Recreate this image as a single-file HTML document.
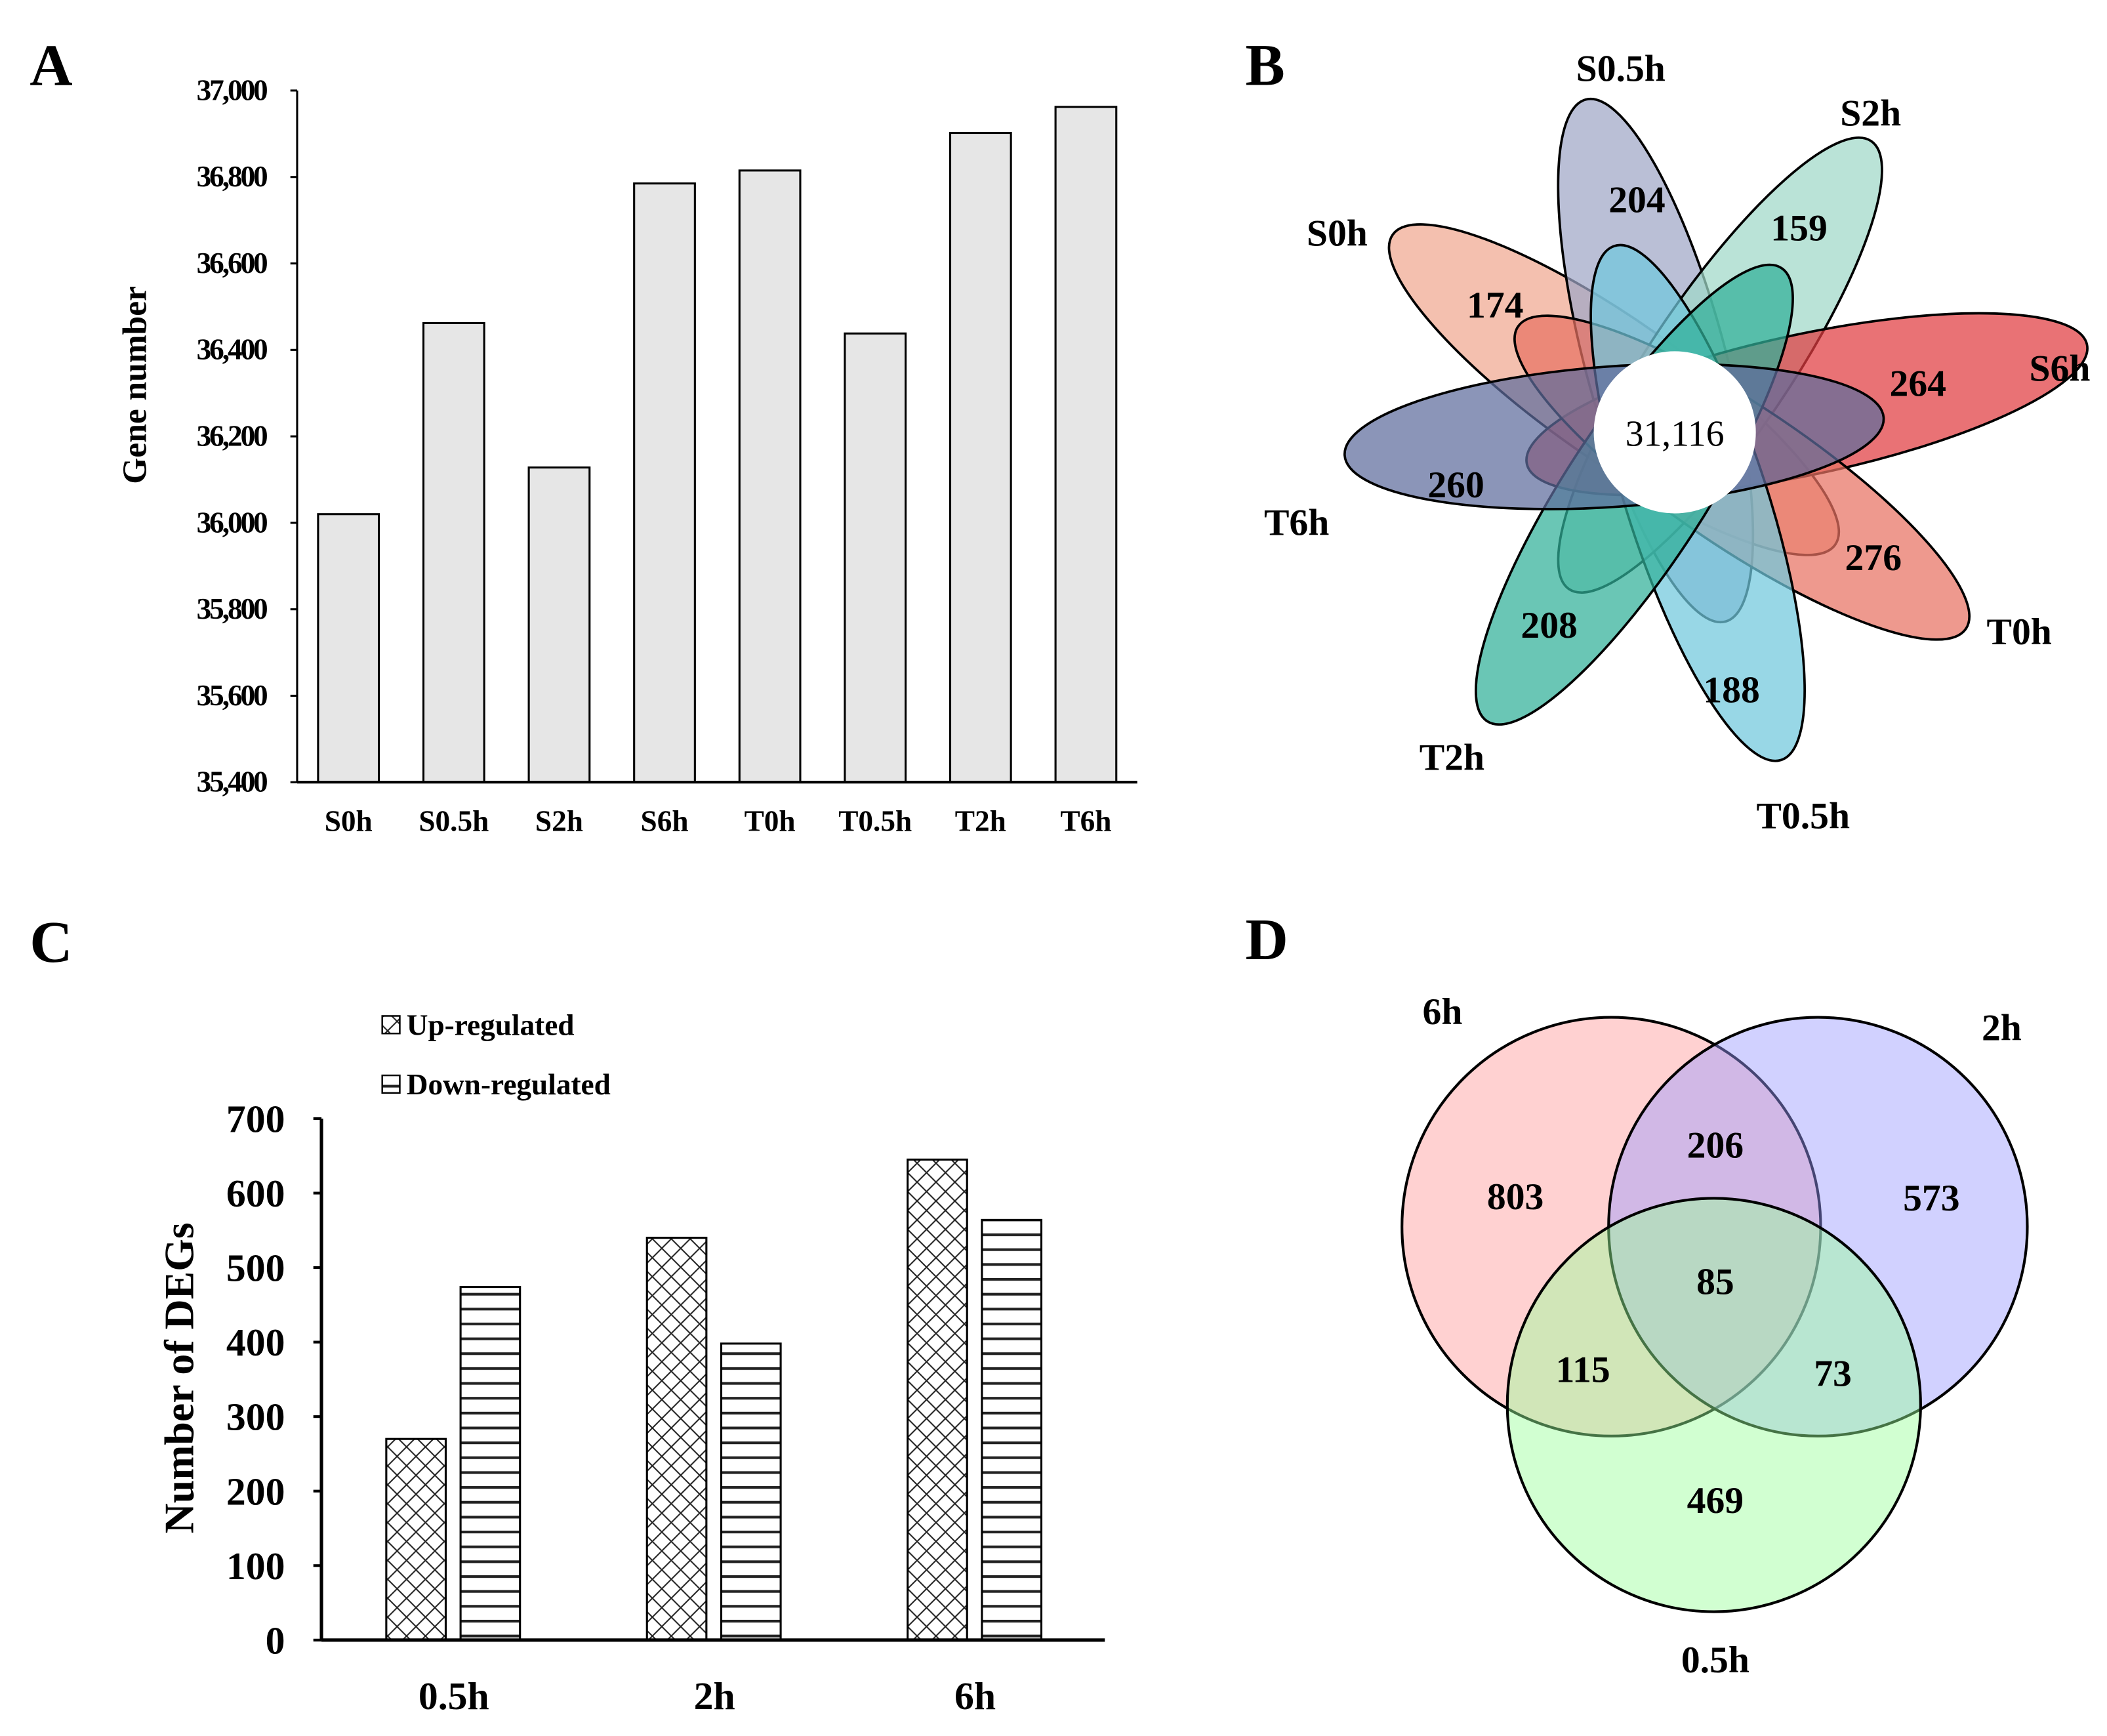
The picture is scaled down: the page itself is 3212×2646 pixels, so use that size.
<!DOCTYPE html>
<html><head><meta charset="utf-8"><style>
html,body{margin:0;padding:0;background:#fff}
svg{display:block;font-family:"Liberation Serif",serif;font-weight:bold}
</style></head><body>
<svg id="fig" xmlns="http://www.w3.org/2000/svg" width="3212" height="2646" viewBox="0 0 1560 1285" preserveAspectRatio="none">
<defs>
<pattern id="cross" patternUnits="userSpaceOnUse" width="14" height="14">
<path d="M0,0 L14,14 M14,0 L0,14" stroke="#222" stroke-width="1"/>
</pattern>
<pattern id="hstripe" patternUnits="userSpaceOnUse" width="8" height="11">
<rect x="0" y="0" width="8" height="2" fill="#222"/>
</pattern>
</defs>
<g id="panelA"></g>
<g id="panelB"></g>
<g id="panelC"></g>
<g id="panelD"></g>
<text x="22" y="63" font-size="44">A</text>
<text x="922" y="63" font-size="44">B</text>
<text x="22" y="712" font-size="44">C</text>
<text x="922" y="710" font-size="44">D</text>
</svg>
<script>
const NS="http://www.w3.org/2000/svg";
// Panel A data
const aCategories=["S0h","S0.5h","S2h","S6h","T0h","T0.5h","T2h","T6h"];
const aValues=[36020,36462,36128,36785,36815,36438,36902,36962];
const aTicks=[35400,35600,35800,36000,36200,36400,36600,36800,37000];
const aTickLabels=["35,400","35,600","35,800","36,000","36,200","36,400","36,600","36,800","37,000"];
// Panel C data
const cCategories=["0.5h","2h","6h"];
const cUp=[270,540,645];
const cDown=[474,398,564];
const cTicks=[0,100,200,300,400,500,600,700];
// Panel B data
const bLabels=["S0h","S0.5h","S2h","S6h","T0h","T0.5h","T2h","T6h"];
const bCounts=["174","204","159","264","276","188","208","260"];
const bCore="31,116";
// Panel D data
const dSets=["6h","2h","0.5h"];
const dRegions=["803","206","573","85","115","73","469"];

function el(tag,attrs,parent,text){const e=document.createElementNS(NS,tag);for(const k in attrs)e.setAttribute(k,attrs[k]);if(text!==undefined)e.textContent=text;parent.appendChild(e);return e;}

// ---- Panel A ----
(function(){
const g=document.getElementById('panelA');
const x0=220,x1=842,yTop=67,yBot=579,vMin=35400,vMax=37000;
const y=v=>yBot-(v-vMin)/(vMax-vMin)*(yBot-yTop);
const step=78,first=258,bw=45;
const xc=i=>first+i*step;
aValues.forEach((v,i)=>{
 const r=el('rect',{x:xc(i)-bw/2,y:y(v),width:bw,height:yBot-y(v),fill:'#e6e6e6',stroke:'#000','stroke-width':1.5},g);
 
 
 const t=el('text',{x:xc(i),y:615,'font-size':22,'text-anchor':'middle'},g,aCategories[i]);
 
 
});
aTicks.forEach((v,i)=>{
 el('line',{x1:x0-5,x2:x0,y1:y(v),y2:y(v),stroke:'#000','stroke-width':1.5},g);
 const t=el('text',{x:197,y:y(v)+7,'font-size':22,'text-anchor':'end','letter-spacing':'-1.5'},g,aTickLabels[i]);
 
 
});
el('line',{x1:x0,x2:x0,y1:yTop,y2:yBot,stroke:'#000','stroke-width':1.5},g);
el('line',{x1:x0,x2:x1,y1:yBot,y2:yBot,stroke:'#000','stroke-width':2},g);
const tt=el('text',{x:0,y:0,'font-size':25,'text-anchor':'middle',transform:'translate(108,285) rotate(-90)'},g,'Gene number');


})();

// ---- Panel C ----
(function(){
const g=document.getElementById('panelC');
const x0=238,x1=818,yBot=1214,yTop=828,vMax=700;
const y=v=>yBot-v/vMax*(yBot-yTop);
const centers=[336,529,722],bw=44;
cCategories.forEach((c,i)=>{
 const u=el('rect',{x:centers[i]-50,y:y(cUp[i]),width:bw,height:yBot-y(cUp[i]),fill:'url(#cross)',stroke:'#000','stroke-width':1.5},g);
 
 
 const d=el('rect',{x:centers[i]+5,y:y(cDown[i]),width:bw,height:yBot-y(cDown[i]),fill:'url(#hstripe)',stroke:'#000','stroke-width':1.5},g);
 
 
 const t=el('text',{x:centers[i],y:1265,'font-size':29,'text-anchor':'middle'},g,c);
 
 
});
cTicks.forEach(v=>{
 el('line',{x1:x0-6,x2:x0,y1:y(v),y2:y(v),stroke:'#000','stroke-width':2},g);
 const t=el('text',{x:211,y:y(v)+10,'font-size':29,'text-anchor':'end'},g,String(v));
 
 
});
el('line',{x1:x0,x2:x0,y1:yTop,y2:yBot,stroke:'#000','stroke-width':2.5},g);
el('line',{x1:x0,x2:x1,y1:yBot,y2:yBot,stroke:'#000','stroke-width':2.5},g);
const tt=el('text',{x:0,y:0,'font-size':31,'text-anchor':'middle',transform:'translate(143,1020) rotate(-90)'},g,'Number of DEGs');


const l1=el('rect',{x:283,y:752,width:13,height:13,fill:'url(#cross)',stroke:'#000','stroke-width':1.2},g);


const lt1=el('text',{x:301,y:766,'font-size':22},g,'Up-regulated');


const l2=el('rect',{x:283,y:796,width:13,height:13,fill:'url(#hstripe)',stroke:'#000','stroke-width':1.2},g);


const lt2=el('text',{x:301,y:810,'font-size':22},g,'Down-regulated');


})();

// ---- Panel B ----
(function(){
const g=document.getElementById('panelB');
const cx=1240,cy=320;
const colors=['#f0a890','#a0a6c6','#a0d8c8','#e03c40','#e87262','#70c8dc','#30b098','#5e6c9c'];
const angles=[-145,-105,-56,-12,34,72,123,176];
const dist=[55,55,60,100,60,55,55,45];
const cnt=[[1107,225],[1212,147],[1332,168],[1420,283],[1387,412],[1282,510],[1147,462],[1078,358]];
const lbl=[[990,182],[1200,60],[1385,93],[1525,282],[1495,477],[1335,613],[1075,570],[960,396]];
bLabels.forEach((n,i)=>{
 const a=angles[i]*Math.PI/180;
 const ex=cx+dist[i]*Math.cos(a),ey=cy+dist[i]*Math.sin(a);
 const e=el('ellipse',{cx:ex,cy:ey,rx:200+(i===3?12:0),ry:52,fill:colors[i],'fill-opacity':0.72,stroke:'#000','stroke-width':1.8,transform:`rotate(${angles[i]} ${ex} ${ey})`},g);
 
 
});
const c=el('circle',{cx:cx,cy:cy,r:60,fill:'#fff'},g);


const ct=el('text',{x:cx,y:cy+10,'font-size':27,'text-anchor':'middle','font-weight':'normal'},g,bCore);


bLabels.forEach((n,i)=>{
 const t=el('text',{x:cnt[i][0],y:cnt[i][1]+10,'font-size':28,'text-anchor':'middle'},g,bCounts[i]);
 
 
 const l=el('text',{x:lbl[i][0],y:lbl[i][1],'font-size':28,'text-anchor':'middle'},g,n);
 
 
});
})();

// ---- Panel D ----
(function(){
const g=document.getElementById('panelD');
const circ=[[1193,908,155,'#ff9999'],[1346,908,155,'#9999ff'],[1269,1040,153,'#99ff99']];
circ.forEach((c,i)=>{
 const e=el('circle',{cx:c[0],cy:c[1],r:c[2],fill:c[3],'fill-opacity':0.45,stroke:'#000','stroke-width':2},g);
 
 
});
const pos=[[1122,885],[1270,847],[1430,886],[1270,948],[1172,1013],[1357,1016],[1270,1110]];
dRegions.forEach((v,i)=>{
 const t=el('text',{x:pos[i][0],y:pos[i][1]+10,'font-size':28,'text-anchor':'middle'},g,v);
 
 
});
const lp=[[1068,758],[1482,770],[1270,1238]];
dSets.forEach((s,i)=>{
 const t=el('text',{x:lp[i][0],y:lp[i][1],'font-size':28,'text-anchor':'middle'},g,s);
 
 
});
})();
</script>
</body></html>
